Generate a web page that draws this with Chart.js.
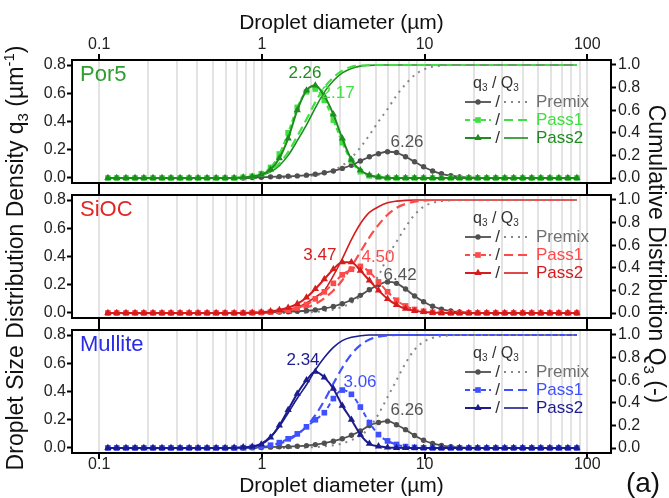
<!DOCTYPE html>
<html>
<head>
<meta charset="utf-8">
<script src="https://cdn.jsdelivr.net/npm/chart.js@4"></script>
<style>
  html, body { margin: 0; padding: 0; background: #fff; }
  #wrap { position: relative; width: 669px; height: 498px; }
  #wrap canvas { position: absolute; left: 0; top: 0; }
</style>
</head>
<body>
<div id="wrap">
  <canvas id="c1" width="669" height="498"></canvas>
  <canvas id="c2" width="669" height="498"></canvas>
  <canvas id="c3" width="669" height="498"></canvas>
</div>
<script>
// size classes (µm)
const diameter = [
  0.113, 0.128, 0.146, 0.166, 0.188, 0.214, 0.243, 0.276, 0.314, 0.357,
  0.405, 0.460, 0.523, 0.594, 0.675, 0.767, 0.872, 0.991, 1.13, 1.28,
  1.45, 1.65, 1.88, 2.13, 2.42, 2.75, 3.12, 3.55, 4.03, 4.58,
  5.21, 5.92, 6.72, 7.64, 8.68, 9.86, 11.2, 12.7, 14.5, 16.4,
  18.7, 21.2, 24.1, 27.4, 31.1, 35.3, 40.1, 45.6, 51.8, 58.9,
  66.9, 76.0, 86.4
];
const majorTicks = [0.1, 1, 10, 100];
const minorTicks = [0.2, 0.3, 0.4, 0.5, 0.6, 0.7, 0.8, 0.9, 2, 3, 4, 5, 6, 7, 8, 9,
  20, 30, 40, 50, 60, 70, 80, 90];
const densTicks = [0, 0.2, 0.4, 0.6, 0.8];
const cumTicks = [0, 0.2, 0.4, 0.6, 0.8, 1.0];
const seriesNames = ['Premix', 'Pass1', 'Pass2'];

// ---- Por5 ----
const por5DensPremix = [
  0, 0, 0, 0, 0, 0, 0, 0, 0, 0,
  0, 0, 0, 0, 0, 0, 0.003, 0.005, 0.008, 0.01,
  0.012, 0.015, 0.02, 0.027, 0.037, 0.05, 0.068, 0.09, 0.12, 0.15,
  0.172, 0.186, 0.18, 0.15, 0.115, 0.08, 0.05, 0.03, 0.016, 0.008,
  0.004, 0.002, 0, 0, 0, 0, 0, 0, 0, 0,
  0, 0, 0
];
const por5DensPass1 = [
  0, 0, 0, 0, 0, 0, 0, 0, 0, 0,
  0, 0, 0, 0, 0, 0.005, 0.012, 0.03, 0.075, 0.17,
  0.32, 0.5, 0.61, 0.63, 0.55, 0.41, 0.25, 0.12, 0.045, 0.015,
  0.005, 0, 0, 0, 0, 0, 0, 0, 0, 0,
  0, 0, 0, 0, 0, 0, 0, 0, 0, 0,
  0, 0, 0
];
const por5DensPass2 = [
  0, 0, 0, 0, 0, 0, 0, 0, 0, 0,
  0, 0, 0, 0, 0, 0.004, 0.01, 0.025, 0.06, 0.14,
  0.28, 0.48, 0.62, 0.655, 0.58, 0.45, 0.28, 0.13, 0.055, 0.02,
  0.007, 0.002, 0, 0, 0, 0, 0, 0, 0, 0,
  0, 0, 0, 0, 0, 0, 0, 0, 0, 0,
  0, 0, 0
];
const por5CumPremix = [
  0, 0, 0, 0, 0, 0, 0, 0, 0, 0,
  0, 0, 0, 0, 0, 0, 0, 0, 0, 0,
  0.005, 0.01, 0.015, 0.025, 0.04, 0.07, 0.11, 0.18, 0.27, 0.38,
  0.5, 0.61, 0.73, 0.83, 0.91, 0.96, 0.985, 0.995, 1, 1,
  1, 1, 1, 1, 1, 1, 1, 1, 1, 1,
  1, 1, 1
];
const por5CumPass1 = [
  0, 0, 0, 0, 0, 0, 0, 0, 0, 0,
  0, 0, 0, 0, 0, 0, 0.005, 0.03, 0.065, 0.13,
  0.23, 0.37, 0.52, 0.67, 0.8, 0.89, 0.95, 0.985, 0.995, 1,
  1, 1, 1, 1, 1, 1, 1, 1, 1, 1,
  1, 1, 1, 1, 1, 1, 1, 1, 1, 1,
  1, 1, 1
];
const por5CumPass2 = [
  0, 0, 0, 0, 0, 0, 0, 0, 0, 0,
  0, 0, 0, 0, 0, 0, 0.004, 0.025, 0.055, 0.11,
  0.2, 0.33, 0.47, 0.62, 0.76, 0.86, 0.93, 0.97, 0.99, 0.997,
  1, 1, 1, 1, 1, 1, 1, 1, 1, 1,
  1, 1, 1, 1, 1, 1, 1, 1, 1, 1,
  1, 1, 1
];
const por5PeakText = ['2.26', '2.17', '6.26'];
const por5PeakX = [1.84, 2.94, 7.8];
const por5PeakY = [0.743, 0.60, 0.255];

// ---- SiOC ----
const siocDensPremix = [
  0, 0, 0, 0, 0, 0, 0, 0, 0, 0,
  0, 0, 0, 0, 0, 0, 0.002, 0.003, 0.005, 0.007,
  0.009, 0.012, 0.016, 0.022, 0.032, 0.046, 0.066, 0.092, 0.125, 0.165,
  0.2, 0.22, 0.21, 0.17, 0.12, 0.08, 0.048, 0.027, 0.014, 0.007,
  0.003, 0.001, 0, 0, 0, 0, 0, 0, 0, 0,
  0, 0, 0
];
const siocDensPass1 = [
  0, 0, 0, 0, 0, 0, 0, 0, 0, 0,
  0, 0, 0, 0, 0, 0, 0.002, 0.004, 0.007, 0.012,
  0.02, 0.035, 0.06, 0.1, 0.15, 0.21, 0.27, 0.31, 0.33, 0.29,
  0.22, 0.15, 0.09, 0.05, 0.025, 0.012, 0.005, 0.002, 0, 0,
  0, 0, 0, 0, 0, 0, 0, 0, 0, 0,
  0, 0, 0
];
const siocDensPass2 = [
  0, 0, 0, 0, 0, 0, 0, 0, 0, 0,
  0, 0, 0, 0, 0, 0, 0.003, 0.006, 0.012, 0.022,
  0.038, 0.065, 0.11, 0.17, 0.24, 0.31, 0.36, 0.36, 0.3, 0.23,
  0.16, 0.1, 0.058, 0.03, 0.015, 0.007, 0.003, 0.001, 0, 0,
  0, 0, 0, 0, 0, 0, 0, 0, 0, 0,
  0, 0, 0
];
const siocCumPremix = [
  0, 0, 0, 0, 0, 0, 0, 0, 0, 0,
  0, 0, 0, 0, 0, 0, 0, 0, 0, 0,
  0, 0, 0.005, 0.01, 0.018, 0.03, 0.055, 0.09, 0.15, 0.23,
  0.33, 0.5, 0.63, 0.76, 0.87, 0.94, 0.975, 0.99, 0.997, 1,
  1, 1, 1, 1, 1, 1, 1, 1, 1, 1,
  1, 1, 1
];
const siocCumPass1 = [
  0, 0, 0, 0, 0, 0, 0, 0, 0, 0,
  0, 0, 0, 0, 0, 0, 0, 0, 0.005, 0.01,
  0.018, 0.03, 0.05, 0.08, 0.13, 0.2, 0.29, 0.41, 0.54, 0.67,
  0.78, 0.87, 0.93, 0.965, 0.985, 0.995, 1, 1, 1, 1,
  1, 1, 1, 1, 1, 1, 1, 1, 1, 1,
  1, 1, 1
];
const siocCumPass2 = [
  0, 0, 0, 0, 0, 0, 0, 0, 0, 0,
  0, 0, 0, 0, 0, 0, 0, 0.004, 0.01, 0.018,
  0.03, 0.05, 0.09, 0.14, 0.2, 0.33, 0.48, 0.65, 0.79, 0.89,
  0.94, 0.975, 0.99, 0.997, 1, 1, 1, 1, 1, 1,
  1, 1, 1, 1, 1, 1, 1, 1, 1, 1,
  1, 1, 1
];
const siocPeakText = ['3.47', '4.50', '6.42'];
const siocPeakX = [2.27, 5.17, 7.07];
const siocPeakY = [0.41, 0.396, 0.27];

// ---- Mullite ----
const mulDensPremix = [
  0, 0, 0, 0, 0, 0, 0, 0, 0, 0,
  0, 0, 0, 0, 0, 0, 0.002, 0.004, 0.006, 0.008,
  0.01, 0.013, 0.017, 0.024, 0.034, 0.048, 0.066, 0.09, 0.12, 0.16,
  0.18, 0.19, 0.165, 0.13, 0.088, 0.055, 0.032, 0.018, 0.009, 0.004,
  0.002, 0, 0, 0, 0, 0, 0, 0, 0, 0,
  0, 0, 0
];
const mulDensPass1 = [
  0, 0, 0, 0, 0, 0, 0, 0, 0, 0,
  0, 0, 0, 0, 0, 0.002, 0.005, 0.01, 0.02, 0.038,
  0.065, 0.1, 0.15, 0.2, 0.25, 0.35, 0.41, 0.38, 0.29, 0.18,
  0.095, 0.05, 0.025, 0.01, 0.004, 0.001, 0, 0, 0, 0,
  0, 0, 0, 0, 0, 0, 0, 0, 0, 0,
  0, 0, 0
];
const mulDensPass2 = [
  0, 0, 0, 0, 0, 0, 0, 0, 0, 0,
  0, 0, 0, 0, 0.002, 0.005, 0.01, 0.025, 0.075, 0.16,
  0.27, 0.385, 0.48, 0.54, 0.5, 0.42, 0.3, 0.2, 0.095, 0.03,
  0.012, 0.004, 0.001, 0, 0, 0, 0, 0, 0, 0,
  0, 0, 0, 0, 0, 0, 0, 0, 0, 0,
  0, 0, 0
];
const mulCumPremix = [
  0, 0, 0, 0, 0, 0, 0, 0, 0, 0,
  0, 0, 0, 0, 0, 0, 0, 0, 0, 0,
  0, 0, 0.004, 0.008, 0.015, 0.025, 0.04, 0.07, 0.11, 0.18,
  0.3, 0.45, 0.6, 0.75, 0.87, 0.94, 0.975, 0.99, 0.997, 1,
  1, 1, 1, 1, 1, 1, 1, 1, 1, 1,
  1, 1, 1
];
const mulCumPass1 = [
  0, 0, 0, 0, 0, 0, 0, 0, 0, 0,
  0, 0, 0, 0, 0, 0, 0.003, 0.008, 0.02, 0.04,
  0.07, 0.12, 0.19, 0.29, 0.42, 0.57, 0.71, 0.83, 0.91, 0.96,
  0.985, 0.995, 1, 1, 1, 1, 1, 1, 1, 1,
  1, 1, 1, 1, 1, 1, 1, 1, 1, 1,
  1, 1, 1
];
const mulCumPass2 = [
  0, 0, 0, 0, 0, 0, 0, 0, 0, 0,
  0, 0, 0, 0, 0.002, 0.005, 0.012, 0.04, 0.1, 0.19,
  0.31, 0.44, 0.56, 0.69, 0.8, 0.89, 0.95, 0.98, 0.993, 1,
  1, 1, 1, 1, 1, 1, 1, 1, 1, 1,
  1, 1, 1, 1, 1, 1, 1, 1, 1, 1,
  1, 1, 1
];
const mulPeakText = ['2.34', '3.06', '6.26'];
const mulPeakX = [1.79, 4.01, 7.8];
const mulPeakY = [0.623, 0.467, 0.27];

const FONT = '"Liberation Sans", Arial, Helvetica, sans-serif';
const PAGE_H = 498;
const PANEL_H = 123;
const X_MIN = 0.068, X_MAX = 140;
const PREMIX_COL = '#505050';
const CUM_GRAY = '#858585';

Chart.defaults.font.family = FONT;

// marker / line styles for Premix, Pass1, Pass2
const styles = [
  { point: 'circle', r: 2.7, width: 1.8, dash: [], cumDash: [2, 5], cumWidth: 2 },
  { point: 'rect', r: 4.0, width: 2, dash: [5, 3], cumDash: [9, 5], cumWidth: 2.2 },
  { point: 'triangle', r: 4.2, width: 2, dash: [], cumDash: [], cumWidth: 1.6 }
];

const panels = [
  { id: 'c1', name: 'Por5', nameColor: '#2e9e2e', top: 60, first: true, last: false,
    colors: [PREMIX_COL, '#3fe03f', '#1f8c1f'],
    dens: [por5DensPremix, por5DensPass1, por5DensPass2],
    cum: [por5CumPremix, por5CumPass1, por5CumPass2],
    peakText: por5PeakText, peakX: por5PeakX, peakY: por5PeakY },
  { id: 'c2', name: 'SiOC', nameColor: '#e32626', top: 195, first: false, last: false,
    colors: [PREMIX_COL, '#ff4a4a', '#d61c1c'],
    dens: [siocDensPremix, siocDensPass1, siocDensPass2],
    cum: [siocCumPremix, siocCumPass1, siocCumPass2],
    peakText: siocPeakText, peakX: siocPeakX, peakY: siocPeakY },
  { id: 'c3', name: 'Mullite', nameColor: '#2b2be6', top: 330, first: false, last: true,
    colors: [PREMIX_COL, '#3f51ff', '#1c1c8e'],
    dens: [mulDensPremix, mulDensPass1, mulDensPass2],
    cum: [mulCumPremix, mulCumPass1, mulCumPass2],
    peakText: mulPeakText, peakX: mulPeakX, peakY: mulPeakY }
];

function pts(ys) {
  return diameter.map((d, i) => ({ x: d, y: ys[i] }));
}

function fmtDiam(v) {
  return v < 1 ? v.toFixed(1) : String(v);
}

function setLogTicks(scale) {
  scale.ticks = majorTicks.concat(minorTicks)
    .sort((a, b) => a - b)
    .map(v => ({ value: v, major: majorTicks.includes(v) }));
}

function marker(ctx, style, x, y, r) {
  ctx.beginPath();
  if (style === 'circle') {
    ctx.arc(x, y, r, 0, Math.PI * 2);
  } else if (style === 'rect') {
    const h = r * Math.SQRT1_2;
    ctx.rect(x - h, y - h, 2 * h, 2 * h);
  } else {
    ctx.moveTo(x, y - r);
    ctx.lineTo(x + r * 0.866, y + r * 0.5);
    ctx.lineTo(x - r * 0.866, y + r * 0.5);
    ctx.closePath();
  }
  ctx.fill();
}

function richWidth(ctx, parts, size) {
  let w = 0;
  parts.forEach(([t, k]) => {
    ctx.font = (k ? Math.round(size * 0.65) : size) + 'px ' + FONT;
    w += ctx.measureText(t).width;
  });
  return w;
}

function drawRich(ctx, parts, x, y, size, color) {
  ctx.fillStyle = color;
  ctx.textAlign = 'left';
  ctx.textBaseline = 'alphabetic';
  parts.forEach(([t, k]) => {
    ctx.font = (k ? Math.round(size * 0.65) : size) + 'px ' + FONT;
    const dy = k === 'sub' ? size * 0.2 : (k === 'sup' ? -size * 0.38 : 0);
    ctx.fillText(t, x, y + dy);
    x += ctx.measureText(t).width;
  });
}

function drawRotated(ctx, parts, cx, cy, angle, size, color) {
  ctx.save();
  ctx.translate(cx, cy);
  ctx.rotate(angle);
  const w = richWidth(ctx, parts, size);
  drawRich(ctx, parts, -w / 2, size * 0.35, size, color);
  ctx.restore();
}

function buildDatasets(p) {
  const sets = [];
  seriesNames.forEach((name, i) => {
    const st = styles[i];
    const col = p.colors[i];
    sets.push({
      label: name + ' q3',
      data: pts(p.dens[i]),
      xAxisID: 'x', yAxisID: 'y',
      borderColor: col, backgroundColor: col,
      borderWidth: st.width, borderDash: st.dash,
      pointStyle: st.point, pointRadius: st.r,
      pointBorderWidth: 0, pointBackgroundColor: col,
      cubicInterpolationMode: 'monotone',
      order: 4 - i
    });
    sets.push({
      label: name + ' Q3',
      data: pts(p.cum[i]),
      xAxisID: 'x', yAxisID: 'y2',
      borderColor: i === 0 ? CUM_GRAY : col,
      borderWidth: st.cumWidth, borderDash: st.cumDash,
      pointRadius: 0,
      cubicInterpolationMode: 'monotone',
      order: 10
    });
  });
  return sets;
}

function decor(p) {
  return {
    id: 'decor' + p.id,
    afterDatasetsDraw(chart) {
      const ctx = chart.ctx;
      const a = chart.chartArea;
      const sx = chart.scales.x;
      const sy = chart.scales.y;
      ctx.save();

      // sample name
      ctx.font = '22px ' + FONT;
      ctx.fillStyle = p.nameColor;
      ctx.textAlign = 'left';
      ctx.textBaseline = 'middle';
      ctx.fillText(p.name, a.left + 8, a.top + 15);

      // mode labels
      ctx.font = '17px ' + FONT;
      ctx.textAlign = 'center';
      p.peakText.forEach((t, i) => {
        ctx.fillStyle = i === 2 ? '#555' : p.colors[2 - i];
        ctx.fillText(t, sx.getPixelForValue(p.peakX[i]), sy.getPixelForValue(p.peakY[i]));
      });

      // legend
      drawRich(ctx, [['q', ''], ['3', 'sub'], [' / Q', ''], ['3', 'sub']], 473, a.top + 28, 16, '#333');
      seriesNames.forEach((name, i) => {
        const st = styles[i];
        const col = p.colors[i];
        const y = a.top + 42 + 18 * i;
        ctx.strokeStyle = col;
        ctx.lineWidth = st.width;
        ctx.setLineDash(st.dash);
        ctx.beginPath(); ctx.moveTo(465, y); ctx.lineTo(491, y); ctx.stroke();
        ctx.fillStyle = col;
        marker(ctx, st.point, 478, y, st.r);
        ctx.strokeStyle = i === 0 ? CUM_GRAY : col;
        ctx.lineWidth = st.cumWidth;
        ctx.setLineDash(st.cumDash);
        ctx.beginPath(); ctx.moveTo(504, y); ctx.lineTo(528, y); ctx.stroke();
        ctx.setLineDash([]);
        ctx.font = '17px ' + FONT;
        ctx.textBaseline = 'middle';
        ctx.fillStyle = '#333';
        ctx.textAlign = 'center';
        ctx.fillText('/', 497.5, y);
        ctx.fillStyle = i === 0 ? '#707070' : col;
        ctx.textAlign = 'left';
        ctx.fillText(name, 536, y);
      });
      ctx.restore();
    }
  };
}

const pageText = {
  id: 'pageText',
  afterDraw(chart) {
    const ctx = chart.ctx;
    drawRotated(ctx, [['Droplet Size Distribution Density q', ''], ['3', 'sub'], [' (µm', ''], ['-1', 'sup'], [')', '']],
      15, 258, -Math.PI / 2, 23, '#111');
    drawRotated(ctx, [['Cumulative Distribution Q', ''], ['3', 'sub'], [' (-)', '']],
      657, 254, Math.PI / 2, 23, '#111');
    ctx.save();
    ctx.font = '28px ' + FONT;
    ctx.fillStyle = '#111';
    ctx.textAlign = 'center';
    ctx.textBaseline = 'middle';
    ctx.fillText('(a)', 643, 484);
    ctx.restore();
  }
};

function makeChart(p) {
  const bottom = p.top + PANEL_H;
  const topH = p.first ? p.top : 6;
  const botH = p.last ? PAGE_H - bottom : 6;
  const tickFont = { size: 16, family: FONT };
  const titleFont = { size: 21, family: FONT };
  const xGrid = {
    drawOnChartArea: true,
    color: ctx => (ctx.tick && ctx.tick.value >= 0.1 && ctx.tick.value <= 100) ? '#e3e3e3' : 'rgba(0,0,0,0)',
    lineWidth: 2,
    drawTicks: true,
    tickLength: 6,
    tickWidth: 2,
    tickColor: ctx => (ctx.tick && ctx.tick.major) ? '#000' : 'rgba(0,0,0,0)'
  };
  const extra = [decor(p)];
  if (p.last) extra.push(pageText);

  return new Chart(document.getElementById(p.id), {
    type: 'line',
    data: { datasets: buildDatasets(p) },
    options: {
      responsive: false,
      animation: false,
      events: [],
      layout: { padding: { left: 0, right: 0, top: p.top - topH, bottom: PAGE_H - bottom - botH } },
      plugins: { legend: { display: false }, tooltip: { enabled: false } },
      scales: {
        x: {
          type: 'logarithmic', position: 'bottom', min: X_MIN, max: X_MAX,
          afterBuildTicks: setLogTicks,
          afterFit: s => { s.height = botH; },
          grid: xGrid,
          border: { display: true, color: '#000', width: 2 },
          ticks: {
            display: p.last, autoSkip: false, maxRotation: 0, minRotation: 0,
            padding: -3.6, color: '#222', font: tickFont,
            callback: (v, i, ticks) => ticks[i].major ? fmtDiam(v) : ''
          },
          title: { display: p.last, text: 'Droplet diameter (µm)', color: '#111', font: titleFont, padding: { top: 0, bottom: -1 } }
        },
        x2: {
          type: 'logarithmic', position: 'top', min: X_MIN, max: X_MAX,
          afterBuildTicks: setLogTicks,
          afterFit: s => { s.height = topH; },
          grid: Object.assign({}, xGrid, { drawOnChartArea: false }),
          border: { display: true, color: '#000', width: 2 },
          ticks: {
            display: p.first, autoSkip: false, maxRotation: 0, minRotation: 0,
            padding: 0, color: '#222', font: tickFont,
            callback: (v, i, ticks) => ticks[i].major ? fmtDiam(v) : ''
          },
          title: { display: p.first, text: 'Droplet diameter (µm)', color: '#111', font: titleFont, padding: { top: 11, bottom: 0 } }
        },
        y: {
          type: 'linear', position: 'left', min: -0.0354, max: 0.8354,
          afterBuildTicks: s => { s.ticks = densTicks.map(v => ({ value: v })); },
          afterFit: s => { s.width = 72; },
          grid: { drawOnChartArea: false, drawTicks: true, tickLength: 5, tickWidth: 2, tickColor: '#000' },
          border: { display: true, color: '#000', width: 2 },
          ticks: { padding: 1, color: '#222', font: tickFont, callback: v => v.toFixed(1) }
        },
        y2: {
          type: 'linear', position: 'right', min: -0.0442, max: 1.0442,
          afterBuildTicks: s => { s.ticks = cumTicks.map(v => ({ value: v })); },
          afterFit: s => { s.width = 58; },
          grid: { drawOnChartArea: false, drawTicks: true, tickLength: 5, tickWidth: 2, tickColor: '#000' },
          border: { display: true, color: '#000', width: 2 },
          ticks: { padding: 2, color: '#222', font: tickFont, callback: v => v.toFixed(1) }
        }
      }
    },
    plugins: extra
  });
}

panels.forEach(makeChart);
</script>
</body>
</html>
